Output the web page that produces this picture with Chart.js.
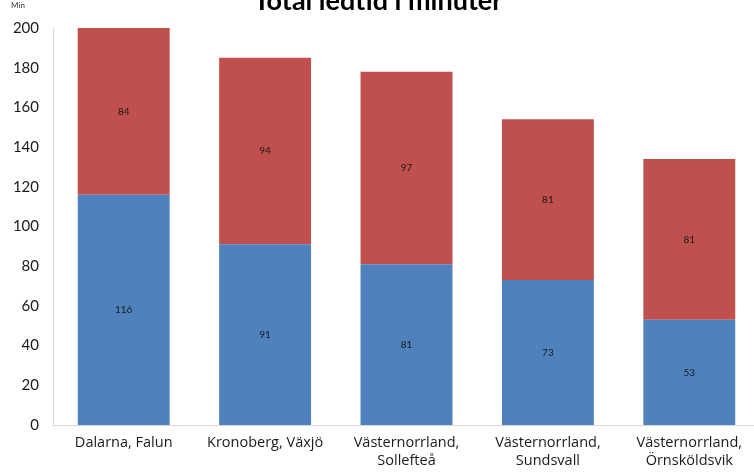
<!DOCTYPE html>
<html>
<head>
<meta charset="utf-8">
<script src="https://cdn.jsdelivr.net/npm/chart.js@4/dist/chart.umd.min.js"></script>
<style>
    html, body { margin: 0; padding: 0; background: #fff; overflow: hidden; }
    #wrap { position: relative; width: 760px; height: 472px; }
</style>
</head>
<body>
<div id="wrap"><canvas id="chart" width="760" height="472"></canvas></div>
<script>
// Data
const categories = [
    'Dalarna, Falun',
    'Kronoberg, Växjö',
    ['Västernorrland,', 'Sollefteå'],
    ['Västernorrland,', 'Sundsvall'],
    ['Västernorrland,', 'Örnsköldsvik']
];
const lowerValues = [116, 91, 81, 73, 53];
const upperValues = [84, 94, 97, 81, 81];
const yTicks = [0, 20, 40, 60, 80, 100, 120, 140, 160, 180, 200];

const titleText = 'Total ledtid i minuter';
const unitText = 'Min';

const BLUE = '#4F81BD';
const RED = '#C0504D';

/**
 * Draws the segment values in the middle of each bar piece,
 * plus the clipped title and the unit label above the y axis.
 */
const extrasPlugin = {
    id: 'extras',
    afterDatasetsDraw(chart) {
        const ctx = chart.ctx;
        ctx.save();
        ctx.font = '10px Lato, "Open Sans", sans-serif';
        ctx.fillStyle = '#1a1a1a';
        ctx.textAlign = 'center';
        ctx.textBaseline = 'middle';
        chart.data.datasets.forEach((ds, i) => {
            const meta = chart.getDatasetMeta(i);
            meta.data.forEach((bar, j) => {
                const mid = (bar.y + bar.base) / 2;
                ctx.fillText(String(ds.data[j]), bar.x, mid);
            });
        });
        ctx.restore();
    },
    afterDraw(chart) {
        const ctx = chart.ctx;
        ctx.save();
        ctx.fillStyle = '#000';
        ctx.textAlign = 'center';
        ctx.textBaseline = 'alphabetic';
        ctx.font = 'bold 27px Lato, "Open Sans", sans-serif';
        ctx.fillText(titleText, 378, 10);
        ctx.font = '8px Lato, "Open Sans", sans-serif';
        ctx.fillStyle = '#333';
        ctx.fillText(unitText, 18, 8);
        ctx.restore();
    }
};

new Chart(document.getElementById('chart'), {
    type: 'bar',
    data: {
        labels: categories,
        datasets: [
            {
                label: 'lower',
                data: lowerValues,
                backgroundColor: BLUE,
                borderWidth: 0,
                barPercentage: 0.65,
                categoryPercentage: 1
            },
            {
                label: 'upper',
                data: upperValues,
                backgroundColor: RED,
                borderWidth: 0,
                barPercentage: 0.65,
                categoryPercentage: 1
            }
        ]
    },
    options: {
        responsive: false,
        animation: false,
        layout: { padding: { top: 28, right: 0, bottom: 0, left: 0 } },
        plugins: {
            legend: { display: false },
            tooltip: { enabled: false }
        },
        scales: {
            x: {
                stacked: true,
                grid: { display: false, drawTicks: false },
                border: { display: true, color: '#d9d9d9' },
                ticks: {
                    color: '#1a1a1a',
                    font: { family: '"Open Sans", Lato, sans-serif', size: 14.5, lineHeight: 1.25 },
                    padding: 9,
                    maxRotation: 0,
                    autoSkip: false
                },
                afterFit(scale) { scale.height = 47; }
            },
            y: {
                stacked: true,
                min: 0,
                max: 200,
                afterBuildTicks(scale) { scale.ticks = yTicks.map(v => ({ value: v })); },
                grid: { display: false, drawTicks: false },
                border: { display: true, color: '#d9d9d9' },
                ticks: {
                    color: '#1a1a1a',
                    font: { family: 'Lato, "Open Sans", sans-serif', size: 15 },
                    padding: 14
                },
                afterFit(scale) { scale.width = 53; }
            }
        }
    },
    plugins: [extrasPlugin]
});
</script>
</body>
</html>
